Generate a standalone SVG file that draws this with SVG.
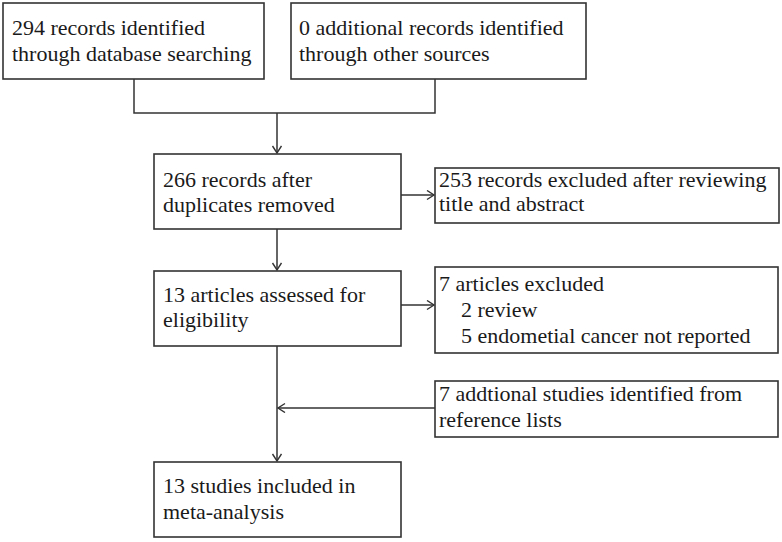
<svg xmlns="http://www.w3.org/2000/svg" width="782" height="542" viewBox="0 0 782 542">
<style>
.box{fill:#fff;stroke:#333;stroke-width:1.6}
.t{font-family:"Liberation Serif","Times New Roman",serif;font-size:22px;fill:#1a1a1a}
.c{fill:none;stroke:#333;stroke-width:1.5}
</style>
<defs>
<marker id="ah" markerUnits="userSpaceOnUse" markerWidth="12" markerHeight="12" refX="8" refY="5" orient="auto">
<path d="M1,0.5 L8,5 L1,9.5" fill="none" stroke="#333" stroke-width="1.4"/>
</marker>
</defs>
<rect width="782" height="542" fill="#fff"/>
<g id="connectors">
<path class="c" d="M134,79 V113 H435 V79"/>
<path class="c" d="M277,113 V153" marker-end="url(#ah)"/>
<path class="c" d="M401,195 H434" marker-end="url(#ah)"/>
<path class="c" d="M277,229 V270" marker-end="url(#ah)"/>
<path class="c" d="M401,305 H434" marker-end="url(#ah)"/>
<path class="c" d="M277,346 V461" marker-end="url(#ah)"/>
<path class="c" d="M435,408 H278" marker-end="url(#ah)"/>
</g>
<g id="n1"><rect class="box" x="3" y="3" width="261" height="76"/>
<text class="t" x="12" y="35">294 records identified</text><text class="t" x="12" y="61">through database searching</text></g>
<g id="n2"><rect class="box" x="291" y="3" width="295" height="76"/>
<text class="t" x="299" y="35">0 additional records identified</text><text class="t" x="299" y="61">through other sources</text></g>
<g id="n3"><rect class="box" x="154" y="154" width="247" height="75"/>
<text class="t" x="163" y="187">266 records after</text><text class="t" x="163" y="212">duplicates removed</text></g>
<g id="n4"><rect class="box" x="435" y="168" width="344" height="55"/>
<text class="t" x="439" y="187">253 records excluded after reviewing</text><text class="t" x="439" y="211">title and abstract</text></g>
<g id="n5"><rect class="box" x="154" y="271" width="247" height="75"/>
<text class="t" x="163" y="302">13 articles assessed for</text><text class="t" x="163" y="327">eligibility</text></g>
<g id="n6"><rect class="box" x="435" y="267" width="343" height="86"/>
<text class="t" x="439" y="291">7 articles excluded</text><text class="t" x="461" y="317">2 review</text><text class="t" x="461" y="343">5 endometial cancer not reported</text></g>
<g id="n7"><rect class="box" x="435" y="381" width="343" height="56"/>
<text class="t" x="439" y="401">7 addtional studies identified from</text><text class="t" x="439" y="427">reference lists</text></g>
<g id="n8"><rect class="box" x="154" y="462" width="247" height="75"/>
<text class="t" x="163" y="493">13 studies included in</text><text class="t" x="163" y="519">meta-analysis</text></g>
</svg>
